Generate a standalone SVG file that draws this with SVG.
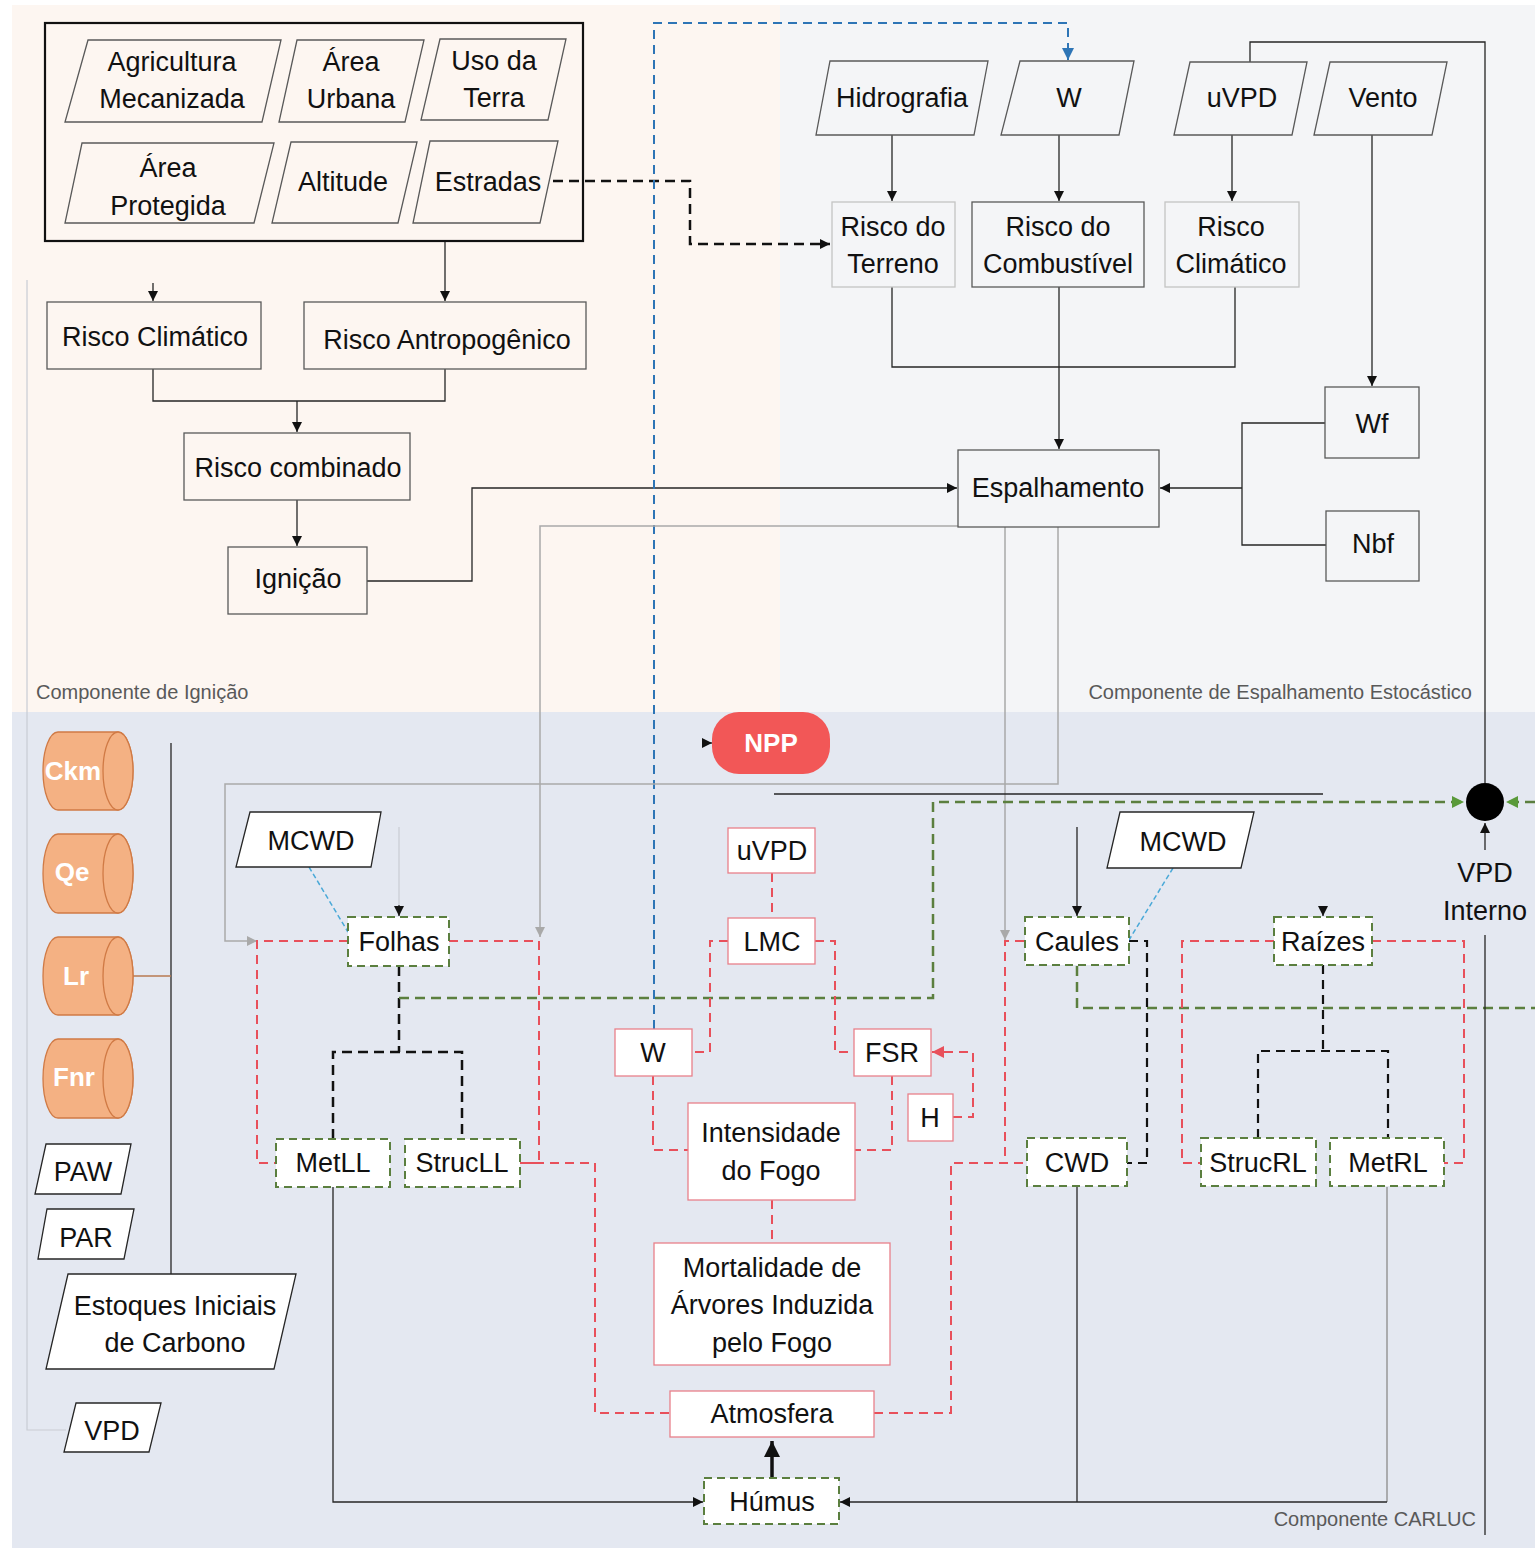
<svg xmlns="http://www.w3.org/2000/svg" width="1535" height="1549" viewBox="0 0 1535 1549">
  <style>
    .t { font-family: "Liberation Sans", Arial, sans-serif; font-size: 27px; fill: #111; text-anchor: middle; }
    .tw { font-family: "Liberation Sans", Arial, sans-serif; font-size: 26px; font-weight: bold; fill: #fff; text-anchor: middle; }
    .lbl { font-family: "Liberation Sans", Arial, sans-serif; font-size: 20px; fill: #595959; }
    .box { fill: none; stroke: #595959; stroke-width: 1.3; }
    .boxl { fill: none; stroke: #c4c4c4; stroke-width: 1.3; }
    .para { fill: none; stroke: #595959; stroke-width: 1.3; }
    .paraw { fill: #fff; stroke: #262626; stroke-width: 1.3; }
    .rbox { fill: #fff; stroke: #e8808a; stroke-width: 1.3; }
    .gbox { fill: #fff; stroke: #5b7f3f; stroke-width: 2; stroke-dasharray: 8 5; }
    .cyl { fill: #f4b183; stroke: #d07a45; stroke-width: 1.3; }
    .c { fill: none; stroke: #262626; stroke-width: 1.3; }
    .cgr { fill: none; stroke: #a9a9a9; stroke-width: 1.5; }
    .cfaint { fill: none; stroke: #c9ccd4; stroke-width: 1.2; }
    .cr { fill: none; stroke: #e8505b; stroke-width: 2; stroke-dasharray: 9 6; }
    .cgd { fill: none; stroke: #5b7f3f; stroke-width: 2.5; stroke-dasharray: 10 6; }
    .ck { fill: none; stroke: #111; stroke-width: 2.5; stroke-dasharray: 10 6; }
    .ckt { fill: none; stroke: #111; stroke-width: 2.2; stroke-dasharray: 9 6; }
    .cb { fill: none; stroke: #2e75b6; stroke-width: 2; stroke-dasharray: 9 6; }
    .cbd { fill: none; stroke: #4aa9d8; stroke-width: 1.5; stroke-dasharray: 5 3; }
  </style>
  <defs>
    <marker id="ak" markerUnits="userSpaceOnUse" markerWidth="11" markerHeight="10" refX="10" refY="5" orient="auto">
      <path d="M0,0 L10,5 L0,10 z" fill="#111"/>
    </marker>
    <marker id="ag" markerUnits="userSpaceOnUse" markerWidth="11" markerHeight="10" refX="10" refY="5" orient="auto">
      <path d="M0,0 L10,5 L0,10 z" fill="#a9a9a9"/>
    </marker>
    <marker id="ab" markerUnits="userSpaceOnUse" markerWidth="13" markerHeight="12" refX="12" refY="6" orient="auto">
      <path d="M0,0 L12,6 L0,12 z" fill="#2e75b6"/>
    </marker>
    <marker id="agr" markerUnits="userSpaceOnUse" markerWidth="13" markerHeight="12" refX="12" refY="6" orient="auto">
      <path d="M0,0 L12,6 L0,12 z" fill="#5a9a3a"/>
    </marker>
    <marker id="ar" markerUnits="userSpaceOnUse" markerWidth="13" markerHeight="12" refX="12" refY="6" orient="auto">
      <path d="M0,0 L12,6 L0,12 z" fill="#e8505b"/>
    </marker>
    <marker id="abig" markerUnits="userSpaceOnUse" markerWidth="17" markerHeight="16" refX="16" refY="8" orient="auto">
      <path d="M0,0 L16,8 L0,16 z" fill="#111"/>
    </marker>
  </defs>

  <!-- panel backgrounds -->
  <rect x="0" y="0" width="1535" height="1549" fill="#fff"/>
  <rect x="12" y="5" width="768" height="707" fill="#fdf6f1"/>
  <rect x="780" y="5" width="755" height="707" fill="#f4f5f7"/>
  <rect x="12" y="712" width="1523" height="836" fill="#e4e8f1"/>
  <text class="lbl" x="36" y="699">Componente de Ignição</text>
  <text class="lbl" x="1472" y="699" text-anchor="end">Componente de Espalhamento Estocástico</text>
  <text class="lbl" x="1476" y="1526" text-anchor="end">Componente CARLUC</text>

  <!-- connectors -->
  <g id="connectors">
    <!-- ignition component -->
    <path class="c" d="M445,241 V301" marker-end="url(#ak)"/>
    <path class="c" d="M153,283 V301" marker-end="url(#ak)"/>
    <path class="c" d="M153,369 V401 H445 V369"/>
    <path class="c" d="M297,401 V432" marker-end="url(#ak)"/>
    <path class="c" d="M297,500 V546" marker-end="url(#ak)"/>
    <path class="c" d="M367,581 H472 V488 H957" marker-end="url(#ak)"/>
    <path class="ck" d="M553,181 H690 V244 H830" marker-end="url(#ak)"/>
    <!-- stochastic spread component -->
    <path class="c" d="M892,135 V201" marker-end="url(#ak)"/>
    <path class="c" d="M1059,135 V201" marker-end="url(#ak)"/>
    <path class="c" d="M1232,135 V201" marker-end="url(#ak)"/>
    <path class="c" d="M1372,135 V386" marker-end="url(#ak)"/>
    <path class="c" d="M892,287 V367 H1235 V287"/>
    <path class="c" d="M1059,287 V449" marker-end="url(#ak)"/>
    <path class="c" d="M1325,423 H1242 V545 H1326"/>
    <path class="c" d="M1242,488 H1160" marker-end="url(#ak)"/>
    <path class="c" d="M1250,62 V42 H1485 V783"/>
    <path class="cb" d="M654,1029 V23 H1068 V60" marker-end="url(#ab)"/>
    <!-- spread to carbon pools -->
    <path class="cgr" d="M958,526 H540 V937" marker-end="url(#ag)"/>
    <path class="cgr" d="M1005,527 V940" marker-end="url(#ag)"/>
    <path class="cgr" d="M1058,527 V784 H225 V941 H257" marker-end="url(#ag)"/>
    <path class="c" d="M774,794 H1323"/>
    <path class="c" d="M703,743 H712" marker-end="url(#ak)"/>
    <!-- model inputs -->
    <path class="c" d="M171,743 V1274"/>
    <path fill="none" stroke="#b87a50" stroke-width="1.3" d="M133,976 H171"/>
    <path class="cfaint" d="M27,280 V1430 H66"/>
    <!-- leaves -->
    <path class="cbd" d="M309,867 L348,932"/>
    <path class="cfaint" d="M399,827 V905"/>
    <path class="c" d="M399,905 V916" marker-end="url(#ak)"/>
    <path class="cr" d="M348,941 H257 V1163 H276"/>
    <path class="cr" d="M449,941 H539 V1163 H520"/>
    <path class="cr" d="M520,1163 H595 V1413 H670"/>
    <path class="ck" d="M399,966 V1052"/>
    <path class="ck" d="M333,1139 V1052 H462 V1139"/>
    <path class="cgd" d="M399,998 H933 V802 H1464" marker-end="url(#agr)"/>
    <path class="cgd" d="M1077,966 V1008 H1535"/>
    <path class="cgd" d="M1535,802 H1506" marker-end="url(#agr)"/>
    <path class="c" d="M1485,850 V823" marker-end="url(#ak)"/>
    <path class="c" d="M1485,935 V1535"/>
    <!-- fire intensity chain -->
    <path class="cr" d="M772,873 V918"/>
    <path class="cr" d="M728,941 H710 V1052 H692"/>
    <path class="cr" d="M815,941 H835 V1052 H854"/>
    <path class="cr" d="M653,1076 V1150 H688"/>
    <path class="cr" d="M892,1076 V1150 H855"/>
    <path class="cr" d="M953,1117 H973 V1052 H932" marker-end="url(#ar)"/>
    <path class="cr" d="M772,1200 V1243"/>
    <path class="cr" d="M874,1413 H951 V1163 H1027"/>
    <path class="cr" d="M1024,941 H1005 V1163"/>
    <!-- stems and roots -->
    <path class="ckt" d="M1129,941 H1147 V1163 H1127"/>
    <path class="cbd" d="M1173,868 L1129,940"/>
    <path class="c" d="M1077,827 V916" marker-end="url(#ak)"/>
    <path class="c" d="M1323,906 V916" marker-end="url(#ak)"/>
    <path class="ckt" d="M1323,965 V1051"/>
    <path class="ckt" d="M1258,1138 V1051 H1388 V1138"/>
    <path class="cr" d="M1274,941 H1182 V1163 H1201"/>
    <path class="cr" d="M1372,941 H1464 V1163 H1444"/>
    <!-- litter to humus -->
    <path class="c" d="M333,1187 V1502 H703" marker-end="url(#ak)"/>
    <path class="c" d="M1077,1187 V1502"/>
    <path fill="none" stroke="#8a8a8a" stroke-width="1.3" d="M1387,1187 V1502"/>
    <path class="c" d="M1387,1502 H840" marker-end="url(#ak)"/>
    <path fill="none" stroke="#111" stroke-width="3.5" d="M772,1478 V1441" marker-end="url(#abig)"/>
  </g>

  <!-- ignition component nodes -->
  <g id="inputs-box"><rect x="45" y="23" width="538" height="218" fill="none" stroke="#111" stroke-width="2.2"/></g>
  <g id="agricultura"><polygon class="para" points="88,40 281,40 262,122 65,122"/><text class="t" x="172" y="71">Agricultura</text><text class="t" x="172" y="108">Mecanizada</text></g>
  <g id="area-urbana"><polygon class="para" points="297,40 424,40 405,122 279,122"/><text class="t" x="351" y="71">Área</text><text class="t" x="351" y="108">Urbana</text></g>
  <g id="uso-terra"><polygon class="para" points="440,39 566,39 548,120 421,120"/><text class="t" x="494" y="70">Uso da</text><text class="t" x="494" y="107">Terra</text></g>
  <g id="area-protegida"><polygon class="para" points="82,143 274,143 254,223 65,223"/><text class="t" x="168" y="177">Área</text><text class="t" x="168" y="215">Protegida</text></g>
  <g id="altitude"><polygon class="para" points="291,142 417,142 398,223 272,223"/><text class="t" x="343" y="191">Altitude</text></g>
  <g id="estradas"><polygon class="para" points="430,141 558,141 540,223 413,223"/><text class="t" x="488" y="191">Estradas</text></g>
  <g id="risco-climatico-ign"><rect class="box" x="47" y="302" width="214" height="67"/><text class="t" x="155" y="346">Risco Climático</text></g>
  <g id="risco-antropogenico"><rect class="box" x="304" y="302" width="282" height="67"/><text class="t" x="447" y="349">Risco Antropogênico</text></g>
  <g id="risco-combinado"><rect class="box" x="184" y="433" width="226" height="67"/><text class="t" x="298" y="477">Risco combinado</text></g>
  <g id="ignicao"><rect class="box" x="228" y="547" width="139" height="67"/><text class="t" x="298" y="588">Ignição</text></g>

  <!-- spread component nodes -->
  <g id="hidrografia"><polygon class="para" points="830,61 988,61 974,135 816,135"/><text class="t" x="902" y="107">Hidrografia</text></g>
  <g id="w-top"><polygon class="para" points="1020,61 1134,61 1119,135 1001,135"/><text class="t" x="1069" y="107">W</text></g>
  <g id="uvpd-top"><polygon class="para" points="1190,62 1307,62 1292,135 1174,135"/><text class="t" x="1242" y="107">uVPD</text></g>
  <g id="vento"><polygon class="para" points="1330,62 1447,62 1432,135 1314,135"/><text class="t" x="1383" y="107">Vento</text></g>
  <g id="risco-terreno"><rect class="boxl" x="832" y="202" width="123" height="85"/><text class="t" x="893" y="236">Risco do</text><text class="t" x="893" y="273">Terreno</text></g>
  <g id="risco-combustivel"><rect class="box" x="972" y="202" width="172" height="85"/><text class="t" x="1058" y="236">Risco do</text><text class="t" x="1058" y="273">Combustível</text></g>
  <g id="risco-climatico-esp"><rect class="boxl" x="1165" y="202" width="134" height="85"/><text class="t" x="1231" y="236">Risco</text><text class="t" x="1231" y="273">Climático</text></g>
  <g id="espalhamento"><rect class="box" x="958" y="450" width="201" height="77"/><text class="t" x="1058" y="497">Espalhamento</text></g>
  <g id="wf"><rect class="box" x="1325" y="387" width="94" height="71"/><text class="t" x="1372" y="433">Wf</text></g>
  <g id="nbf"><rect class="box" x="1326" y="511" width="93" height="70"/><text class="t" x="1373" y="553">Nbf</text></g>

  <!-- CARLUC component nodes -->
  <g id="npp"><rect x="712" y="712" width="118" height="62" rx="27" fill="#f25757"/><text class="tw" x="771" y="752">NPP</text></g>
  <g id="ckm"><path class="cyl" d="M58,732 H118 A15,39 0 0 1 118,810 H58 A15,39 0 0 1 58,732 Z"/><ellipse class="cyl" cx="118" cy="771" rx="15" ry="39"/><text class="tw" x="73" y="780">Ckm</text></g>
  <g id="qe"><path class="cyl" d="M58,834 H118 A15,39.5 0 0 1 118,913 H58 A15,39.5 0 0 1 58,834 Z"/><ellipse class="cyl" cx="118" cy="873.5" rx="15" ry="39.5"/><text class="tw" x="72" y="881">Qe</text></g>
  <g id="lr"><path class="cyl" d="M58,937 H118 A15,39 0 0 1 118,1015 H58 A15,39 0 0 1 58,937 Z"/><ellipse class="cyl" cx="118" cy="976" rx="15" ry="39"/><text class="tw" x="76" y="985">Lr</text></g>
  <g id="fnr"><path class="cyl" d="M58,1039 H118 A15,39.5 0 0 1 118,1118 H58 A15,39.5 0 0 1 58,1039 Z"/><ellipse class="cyl" cx="118" cy="1078.5" rx="15" ry="39.5"/><text class="tw" x="74" y="1086">Fnr</text></g>
  <g id="paw"><polygon class="paraw" points="46,1144 131,1144 121,1194 35,1194"/><text class="t" x="83" y="1181">PAW</text></g>
  <g id="par"><polygon class="paraw" points="47,1209 134,1209 124,1259 38,1259"/><text class="t" x="86" y="1247">PAR</text></g>
  <g id="estoques"><polygon class="paraw" points="68,1274 296,1274 274,1369 46,1369"/><text class="t" x="175" y="1315">Estoques Iniciais</text><text class="t" x="175" y="1352">de Carbono</text></g>
  <g id="vpd"><polygon class="paraw" points="76,1403 161,1403 149,1452 64,1452"/><text class="t" x="112" y="1440">VPD</text></g>
  <g id="mcwd-folhas"><polygon class="paraw" points="250,812 381,812 371,867 236,867"/><text class="t" x="311" y="850">MCWD</text></g>
  <g id="folhas"><rect class="gbox" x="348" y="917" width="101" height="49"/><text class="t" x="399" y="951">Folhas</text></g>
  <g id="metll"><rect class="gbox" x="276" y="1139" width="114" height="48"/><text class="t" x="333" y="1172">MetLL</text></g>
  <g id="strucll"><rect class="gbox" x="405" y="1139" width="115" height="48"/><text class="t" x="462" y="1172">StrucLL</text></g>
  <g id="uvpd"><rect class="rbox" x="728" y="828" width="87" height="45"/><text class="t" x="772" y="860">uVPD</text></g>
  <g id="lmc"><rect class="rbox" x="728" y="918" width="87" height="46"/><text class="t" x="772" y="951">LMC</text></g>
  <g id="w"><rect class="rbox" x="615" y="1029" width="77" height="47"/><text class="t" x="653" y="1062">W</text></g>
  <g id="fsr"><rect class="rbox" x="854" y="1029" width="77" height="47"/><text class="t" x="892" y="1062">FSR</text></g>
  <g id="h"><rect class="rbox" x="908" y="1094" width="45" height="47"/><text class="t" x="930" y="1127">H</text></g>
  <g id="intensidade"><rect class="rbox" x="688" y="1103" width="167" height="97"/><text class="t" x="771" y="1142">Intensidade</text><text class="t" x="771" y="1180">do Fogo</text></g>
  <g id="mortalidade"><rect class="rbox" x="654" y="1243" width="236" height="122"/><text class="t" x="772" y="1277">Mortalidade de</text><text class="t" x="772" y="1314">Árvores Induzida</text><text class="t" x="772" y="1352">pelo Fogo</text></g>
  <g id="atmosfera"><rect class="rbox" x="670" y="1391" width="204" height="46"/><text class="t" x="772" y="1423">Atmosfera</text></g>
  <g id="humus"><rect class="gbox" x="704" y="1478" width="135" height="46"/><text class="t" x="772" y="1511">Húmus</text></g>
  <g id="mcwd-caules"><polygon class="paraw" points="1120,812 1254,812 1241,868 1107,868"/><text class="t" x="1183" y="851">MCWD</text></g>
  <g id="caules"><rect class="gbox" x="1025" y="917" width="104" height="48"/><text class="t" x="1077" y="951">Caules</text></g>
  <g id="raizes"><rect class="gbox" x="1274" y="917" width="98" height="48"/><text class="t" x="1323" y="951">Raízes</text></g>
  <g id="cwd"><rect class="gbox" x="1027" y="1138" width="100" height="48"/><text class="t" x="1077" y="1172">CWD</text></g>
  <g id="strucrl"><rect class="gbox" x="1201" y="1138" width="115" height="48"/><text class="t" x="1258" y="1172">StrucRL</text></g>
  <g id="metrl"><rect class="gbox" x="1330" y="1138" width="114" height="48"/><text class="t" x="1388" y="1172">MetRL</text></g>
  <g id="vpd-interno"><circle cx="1485" cy="802" r="19" fill="#000"/><text class="t" x="1485" y="882">VPD</text><text class="t" x="1485" y="920">Interno</text></g>
</svg>
